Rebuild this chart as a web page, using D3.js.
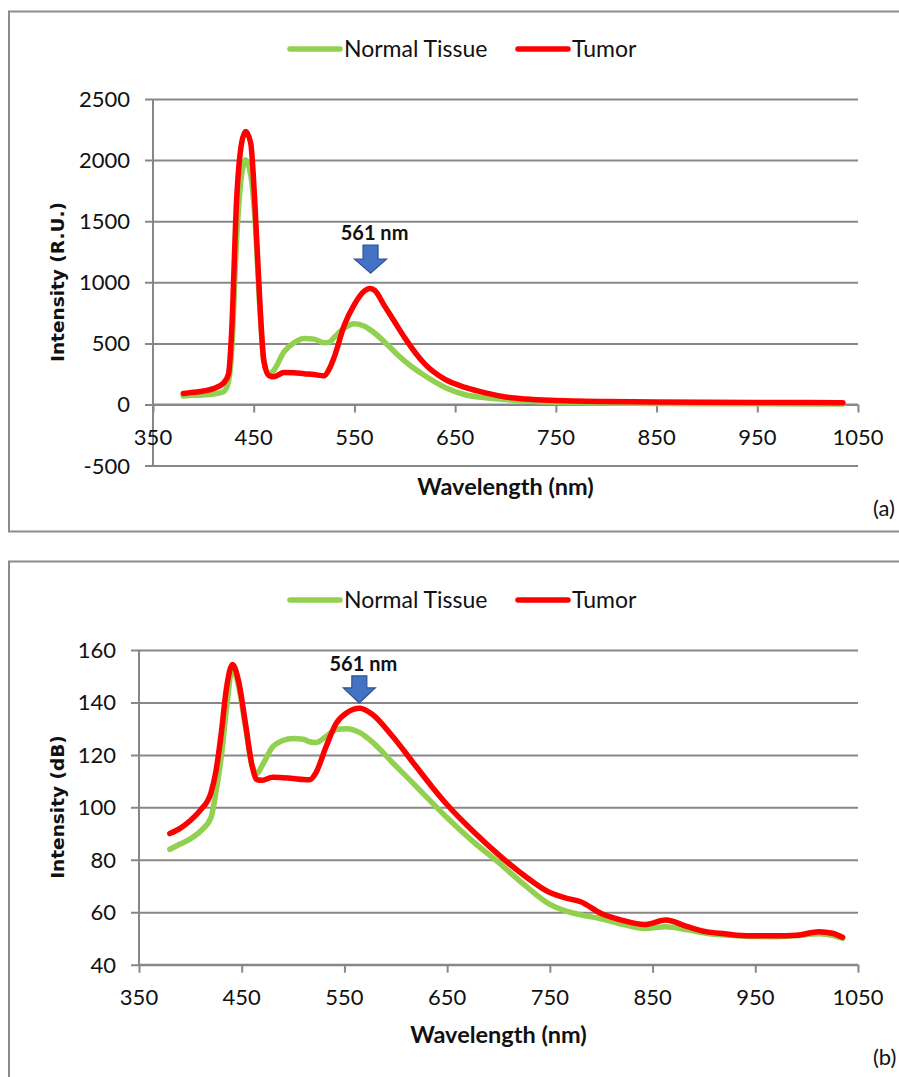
<!DOCTYPE html>
<html>
<head>
<meta charset="utf-8">
<script src="https://cdn.jsdelivr.net/npm/d3@7"></script>
<style>
  body { margin: 0; background: #fff; }
  svg { display: block; }
  .tick-label { font-family: Lato, 'Open Sans', sans-serif; font-size: 22px; fill: #111; }
  .legend-label { font-family: Lato, 'Open Sans', sans-serif; font-size: 23px; fill: #111; }
  .x-title { font-family: Lato, 'Open Sans', sans-serif; font-weight: bold; font-size: 23.5px; fill: #111; }
  .y-title { font-family: 'DejaVu Sans', Verdana, sans-serif; font-weight: bold; font-size: 18.5px; fill: #111; }
  .note { font-family: Lato, 'Open Sans', sans-serif; font-weight: bold; font-size: 20px; fill: #111; }
  .panel-tag { font-family: Lato, 'Open Sans', sans-serif; font-size: 22px; fill: #111; }
</style>
</head>
<body>
<div id="chart"></div>
<script>
// wavelengths (nm) and intensities
const waveA = [380, 390, 400, 410, 420, 425, 428, 433, 438, 442, 447, 451, 456, 460, 465,
  470, 480, 490, 500, 510, 520, 525, 530, 540, 550, 560, 565, 570, 580, 590,
  600, 620, 640, 660, 680, 700, 720, 750, 800, 850, 900, 950, 1000, 1035];
const normalA = [70, 75, 78, 85, 105, 190, 420, 1350, 1880, 2000, 1880, 1550, 800, 360, 250,
  280, 430, 505, 540, 535, 505, 510, 550, 625, 660, 640, 615, 585, 510, 430,
  355, 235, 140, 80, 55, 40, 28, 18, 12, 9, 7, 6, 5, 5];
const tumorA = [90, 100, 110, 130, 175, 250, 580, 1670, 2140, 2235, 2140, 1670, 850, 360, 238,
  228, 262, 260, 252, 245, 235, 290, 390, 650, 820, 930, 950, 935, 805, 675,
  545, 330, 205, 140, 95, 62, 45, 33, 24, 20, 18, 17, 16, 15];

const waveB = [380, 390, 400, 410, 420, 425, 430, 435, 441, 447, 454, 460, 465, 470, 480,
  490, 500, 510, 516, 522, 532, 542, 552, 565, 577, 597, 616, 636, 650, 675,
  700, 725, 750, 765, 780, 800, 820, 842, 863, 884, 902, 920, 945, 970, 990,
  1012, 1025, 1035];
const normalB = [84, 86, 88, 91, 96, 106, 119, 137, 153, 146, 130, 116, 113, 116, 123,
  125.5, 126.3, 126, 125, 124.7, 127, 129.7, 130, 128.5, 125, 117, 109.5, 101.5, 96, 87,
  79, 70.5, 63, 60.5, 59, 57.5, 55.5, 53.8, 54.5, 53.3, 52, 51.3, 50.8, 50.7, 51,
  51.8, 51.2, 50];
const tumorB = [90, 92, 95, 99, 105.5, 114, 128, 145, 154.5, 148, 131, 116, 110.5, 110.3, 111.5,
  111.3, 111, 110.6, 110.5, 113, 123, 132, 136, 137.8, 135.5, 127, 117.5, 107.5, 101, 91,
  82, 74, 67.5, 65.5, 64, 59.5, 57, 55.3, 57, 54.5, 52.6, 51.8, 51, 51, 51.2,
  52.6, 52, 50.5];

const xTicks = [350, 450, 550, 650, 750, 850, 950, 1050];
const yTicksA = [-500, 0, 500, 1000, 1500, 2000, 2500];
const yTicksB = [40, 60, 80, 100, 120, 140, 160];
const seriesNames = ['Normal Tissue', 'Tumor'];
const noteText = '561 nm';

const colors = { 'Normal Tissue': '#92d050', 'Tumor': '#ff0000' };
const gridColor = '#878787';

const svg = d3.select('#chart').append('svg')
  .attr('width', 899)
  .attr('height', 1077);

const drawPanel = (p) => {
  const g = svg.append('g').attr('class', p.tag);

  // outer frame
  g.append('rect')
    .attr('x', 9).attr('y', p.top)
    .attr('width', 920).attr('height', p.frameHeight)
    .attr('fill', 'none')
    .attr('stroke', '#8c8c8c')
    .attr('stroke-width', 2);

  const x = d3.scaleLinear().domain([350, 1050]).range([p.left, 858]);
  const y = d3.scaleLinear().domain(p.yDomain).range(p.yRange);
  const baseY = y(p.baseValue);

  // horizontal gridlines + y axis
  const yAxis = d3.axisLeft(y).tickValues(p.yTicks).tickSize(-(858 - p.left)).tickFormat('');
  g.append('g')
    .attr('transform', `translate(${p.left},0)`)
    .call(yAxis)
    .call(a => a.select('.domain').remove())
    .call(a => a.selectAll('.tick line').attr('stroke', gridColor).attr('stroke-width', 2).attr('x1', -8));

  g.append('line')
    .attr('x1', p.left).attr('x2', p.left)
    .attr('y1', y(p.yDomain[1])).attr('y2', y(p.yDomain[0]))
    .attr('stroke', gridColor).attr('stroke-width', 2);

  g.selectAll('.ylab').data(p.yTicks).enter().append('text')
    .attr('class', 'tick-label')
    .attr('x', p.left - 23)
    .attr('y', d => y(d))
    .attr('dy', '0.36em')
    .attr('text-anchor', 'end')
    .text(d => d);

  // x axis line with tick marks
  const xAxis = d3.axisBottom(x).tickValues(xTicks).tickSize(8).tickFormat('');
  g.append('g')
    .attr('transform', `translate(0,${baseY})`)
    .call(xAxis)
    .call(a => a.select('.domain').attr('stroke', gridColor).attr('stroke-width', 2).attr('d', `M${p.left},0H858`))
    .call(a => a.selectAll('.tick line').attr('stroke', gridColor).attr('stroke-width', 2));

  g.selectAll('.xlab').data(xTicks).enter().append('text')
    .attr('class', 'tick-label')
    .attr('x', d => x(d))
    .attr('y', p.xLabelY)
    .attr('dy', '0.36em')
    .attr('text-anchor', 'middle')
    .text(d => d);

  // curves
  const line = d3.line()
    .x(d => x(d[0]))
    .y(d => y(d[1]))
    .curve(d3.curveMonotoneX);
  p.series.forEach(s => {
    g.append('path')
      .attr('d', line(d3.zip(p.wave, s.values)))
      .attr('fill', 'none')
      .attr('stroke', colors[s.name])
      .attr('stroke-width', 5.5)
      .attr('stroke-linejoin', 'round')
      .attr('stroke-linecap', 'round');
  });

  // legend
  const leg = g.append('g').attr('transform', `translate(0,${p.legendY})`);
  const legX = [{ name: seriesNames[0], x0: 290 }, { name: seriesNames[1], x0: 518 }];
  legX.forEach(l => {
    leg.append('line')
      .attr('x1', l.x0).attr('x2', l.x0 + 50)
      .attr('y1', 0).attr('y2', 0)
      .attr('stroke', colors[l.name])
      .attr('stroke-width', 5.5)
      .attr('stroke-linecap', 'round');
    leg.append('text')
      .attr('class', 'legend-label')
      .attr('x', l.x0 + 54)
      .attr('y', 0)
      .attr('dy', '0.36em')
      .text(l.name);
  });

  // titles
  g.append('text')
    .attr('class', 'x-title')
    .attr('x', (p.left + 858) / 2)
    .attr('y', p.xTitleY)
    .attr('dy', '0.36em')
    .attr('text-anchor', 'middle')
    .text('Wavelength (nm)');

  g.append('text')
    .attr('class', 'y-title')
    .attr('transform', `translate(57,${p.yTitleY}) rotate(-90)`)
    .attr('dy', '0.36em')
    .attr('text-anchor', 'middle')
    .text(p.yTitle);

  g.append('text')
    .attr('class', 'panel-tag')
    .attr('x', 873)
    .attr('y', p.tagY)
    .attr('dy', '0.36em')
    .text(`(${p.tag})`);

  // 561 nm arrow annotation
  const tx = x(p.note[0]), ty = y(p.note[1]);
  const h = p.arrowLen, hh = p.headLen;
  const arrow = [
    [tx, ty], [tx - 16, ty - hh], [tx - 7.5, ty - hh], [tx - 7.5, ty - h],
    [tx + 7.5, ty - h], [tx + 7.5, ty - hh], [tx + 16, ty - hh]
  ];
  g.append('path')
    .attr('d', d3.line()(arrow) + 'Z')
    .attr('fill', '#4472c4')
    .attr('stroke', '#2f528f')
    .attr('stroke-width', 1.2);
  g.append('text')
    .attr('class', 'note')
    .attr('x', tx + 4)
    .attr('y', ty - h - 5)
    .attr('text-anchor', 'middle')
    .text(noteText);
};

drawPanel({
  tag: 'a', top: 11.5, frameHeight: 520, left: 153,
  yDomain: [-500, 2500], yRange: [465.6, 99], yTicks: yTicksA, baseValue: 0,
  xLabelY: 437, xTitleY: 487, yTitleY: 282, tagY: 508, legendY: 49,
  yTitle: 'Intensity (R.U.)',
  wave: waveA,
  series: [{ name: seriesNames[0], values: normalA }, { name: seriesNames[1], values: tumorA }],
  note: [566, 1075], arrowLen: 28, headLen: 14
});

drawPanel({
  tag: 'b', top: 561.5, frameHeight: 600, left: 139,
  yDomain: [40, 160], yRange: [964.7, 650], yTicks: yTicksB, baseValue: 40,
  xLabelY: 997, xTitleY: 1035, yTitleY: 807, tagY: 1057, legendY: 600,
  yTitle: 'Intensity (dB)',
  wave: waveB,
  series: [{ name: seriesNames[0], values: normalB }, { name: seriesNames[1], values: tumorB }],
  note: [564.5, 139.8], arrowLen: 27, headLen: 15
});
</script>
</body>
</html>
